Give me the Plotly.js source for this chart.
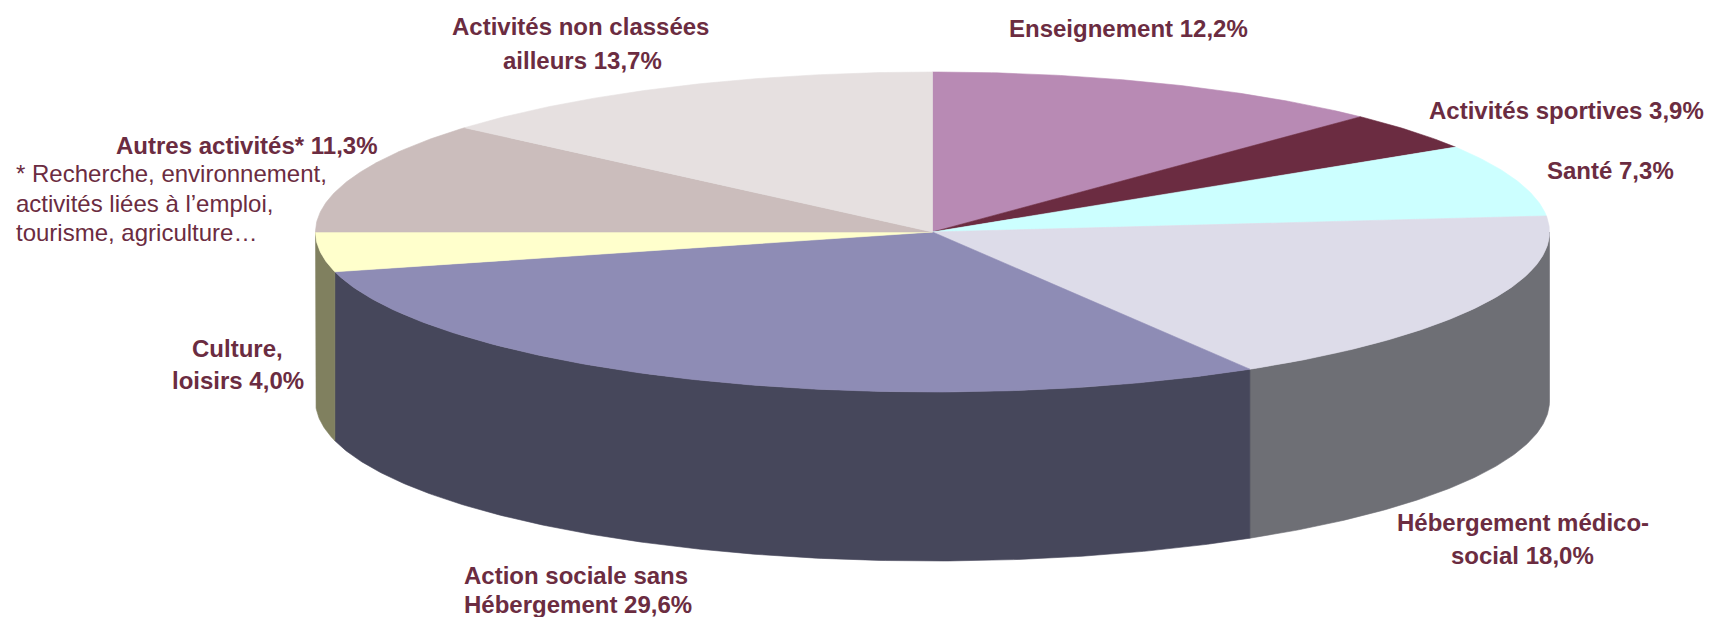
<!DOCTYPE html>
<html>
<head>
<meta charset="utf-8">
<script src="https://cdn.plot.ly/plotly-3.0.1.min.js"></script>
<style>html,body{margin:0;padding:0;background:#fff}#chart{width:1709px;height:617px}</style>
</head>
<body>
<div id="chart"></div>
<script>
// Slice names and the shares stated on the chart's labels
const categories = ["Enseignement","Activités sportives","Santé","Hébergement médico-social","Action sociale sans Hébergement","Culture, loisirs","Autres activités","Activités non classées ailleurs"];
const shares = [12.2,3.9,7.3,18.0,29.6,4.0,11.3,13.7];
const topColors = ["#B88AB4","#6B2C41","#CCFFFF","#DDDCE9","#8E8CB5","#FFFFCC","#CBBDBC","#E6E0E0"];
const wallColors = ["#5C455A","#361620","#668080","#6E6F75","#46475B","#80805F","#665F5E","#737070"];

const boldLines = ["Activités non classées","ailleurs 13,7%","Enseignement 12,2%","Activités sportives 3,9%","Santé 7,3%","Hébergement médico-","social 18,0%","Action sociale sans","Hébergement 29,6%","Culture,","loisirs 4,0%","Autres activités* 11,3%"];
const boldX = [580,582,1128,1566,1610,1523,1522,576,578,237,238,246];
const boldY = [26,60,28,110,170,522,555,575,604,348,380,145];
const noteLines = ["* Recherche, environnement,","activités liées à l’emploi,","tourisme, agriculture…"];
const noteX = [15,15,15];
const noteY = [173,203,232];

const ink = "#6B2C41";
const cx = 932.5, cy = 232, rx = 617, ry = 160, depth = 169;

function pt(deg, dy){
  const r = deg*Math.PI/180;
  return [cx + rx*Math.sin(r), cy - ry*Math.cos(r) + dy];
}
function arc(a, b, dy){
  const n = Math.max(2, Math.ceil(Math.abs(b-a)/0.5));
  const out = [];
  for(let i=0;i<=n;i++) out.push(pt(a+(b-a)*i/n, dy));
  return out;
}
const traces = [];
function poly(points, color, name){
  traces.push({type:"scatter",mode:"lines",x:points.map(p=>p[0]),y:points.map(p=>p[1]),
    fill:"toself",fillcolor:color,line:{color:color,width:0.6},name:name,hoverinfo:"name",showlegend:false});
}
let acc = 0;
const spans = shares.map(v=>{const a=acc*3.6; acc+=v; return [a,acc*3.6];});
// front walls (only the part between 3 o'clock and 9 o'clock faces the viewer)
spans.forEach((s,i)=>{
  const a=Math.max(s[0],90), b=Math.min(s[1],270);
  if(b<=a) return;
  poly(arc(a,b,0).concat(arc(b,a,depth)).concat([pt(a,0)]), wallColors[i], categories[i]);
});
// top face
spans.forEach((s,i)=>{
  poly([[cx,cy]].concat(arc(s[0],s[1],0)).concat([[cx,cy]]), topColors[i], categories[i]);
});

const font = "Liberation Sans, Arial, sans-serif";
const annotations = [];
boldLines.forEach((t,i)=>annotations.push({x:boldX[i],y:boldY[i],xref:"x",yref:"y",text:"<b>"+t+"</b>",showarrow:false,
  xanchor:"center",yanchor:"middle",font:{family:font,size:24,color:ink}}));
noteLines.forEach((t,i)=>annotations.push({x:noteX[i],y:noteY[i],xref:"x",yref:"y",text:t,showarrow:false,
  xanchor:"left",yanchor:"middle",xshift:-1,font:{family:font,size:24,color:ink}}));

Plotly.newPlot("chart",traces,{
  width:1709,height:617,margin:{l:0,r:0,t:0,b:0},
  paper_bgcolor:"#fff",plot_bgcolor:"#fff",showlegend:false,
  xaxis:{range:[0,1709],visible:false,fixedrange:true},
  yaxis:{range:[617,0],visible:false,fixedrange:true},
  annotations:annotations
},{displayModeBar:false});
</script>
</body>
</html>
